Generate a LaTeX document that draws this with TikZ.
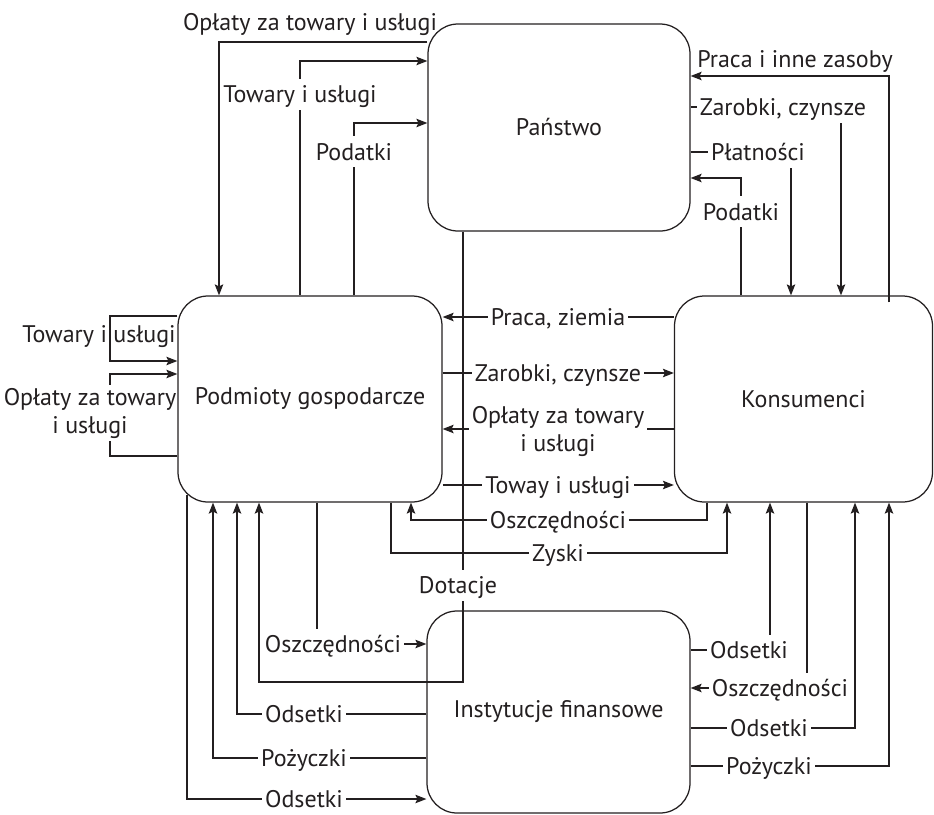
\documentclass[tikz,border=0pt]{standalone}
\usepackage{fontspec}
\setmainfont{PT Sans}
\usetikzlibrary{arrows.meta}
\definecolor{ink}{RGB}{35,31,32}
\begin{document}
\begin{tikzpicture}[x=1pt,y=-1pt,
  font=\fontsize{24}{28}\selectfont,
  box/.style={draw=ink, line width=1.25pt, rounded corners=30pt, inner sep=0pt, text=ink},
  conn/.style={draw=ink, line width=1.25pt},
  arr/.style={conn, -{Stealth[length=11pt,width=8.5pt,inset=2pt]}},
  lbl/.style={fill=white, inner sep=3pt, text height=21pt, text depth=4pt, text=ink},
  lbltwo/.style={fill=white, inner sep=3pt, align=center, text=ink},
  free/.style={inner sep=0pt, text=ink}
]
\useasboundingbox (0,0) rectangle (934,814);

\node[box, minimum width=262pt, minimum height=207pt] (pan) at (559,127.5) {Państwo};
\node[box, minimum width=264pt, minimum height=206pt] (pod) at (310,399) {Podmioty gospodarcze};
\node[box, minimum width=258pt, minimum height=206pt] (kon) at (803.5,399) {Konsumenci};
\node[box, minimum width=263pt, minimum height=202pt] (ins) at (558.5,712) {Instytucje finansowe};

% top-left
\draw[arr] (pan.west |- 0,42) -| (pod.north -| 219,0);
\draw[arr] (pod.north -| 300,0) |- (pan.west |- 0,61);
\draw[arr] (pod.north -| 354,0) |- (pan.west |- 0,123);
% Dotacje
\draw[arr] (pan.south -| 463,0) -- (463,682) -| (pod.south -| 259,0);
% top-right
\draw[arr] (kon.north -| 889,0) ++(0,7) |- (pan.east |- 0,76);
\draw[arr] (pan.east |- 0,107) -| (kon.north -| 841,0);
\draw[arr] (pan.east |- 0,152) -| (kon.north -| 791,0);
\draw[arr] (kon.north -| 741,0) |- (pan.east |- 0,178);
% middle
\draw[arr] (kon.west |- 0,317) -- (pod.east |- 0,317);
\draw[arr] (pod.east |- 0,373) -- (kon.west |- 0,373);
\draw[arr] (kon.west |- 0,429) -- (pod.east |- 0,429);
\draw[arr] (pod.east |- 0,485) -- (kon.west |- 0,485);
\draw[arr] (kon.south -| 707,0) |- (411,520) -- (pod.south -| 411,0);
\draw[arr] (pod.south -| 391,0) |- (727,553) -- (kon.south -| 727,0);
% bottom-left
\draw[arr] (pod.south -| 187,0) ++(0,-8) |- (ins.west |- 0,799);
\draw[arr] (ins.west |- 0,758) -| (pod.south -| 213,0);
\draw[arr] (ins.west |- 0,714) -| (pod.south -| 237,0);
\draw[arr] (pod.south -| 317,0) |- (ins.west |- 0,644);
% bottom-right
\draw[arr] (ins.east |- 0,650) -| (kon.south -| 770,0);
\draw[arr] (kon.south -| 807,0) |- (ins.east |- 0,688);
\draw[arr] (ins.east |- 0,728) -| (kon.south -| 855,0);
\draw[arr] (ins.east |- 0,766) -| (kon.south -| 889,0);
% left loops
\draw[arr] (pod.west |- 0,316) -- (110,316) -- (110,361) -- (pod.west |- 0,361);
\draw[arr] (pod.west |- 0,456) -- (110,456) -- (110,374) -- (pod.west |- 0,374);

% labels
\node[free] (l1) at (310,24) {Opłaty za towary i usługi};
\node[lbl] (l2) at (300,94) {Towary i usługi};
\node[lbl] (l3) at (354,151.5) {Podatki};
\node[lbl] (l4) at (458,585) {Dotacje};
\node[free] (l5) at (795,61) {Praca i inne zasoby};
\node[lbl] (l6) at (783,107) {Zarobki, czynsze};
\node[lbl] (l7) at (758,152) {Płatności};
\node[lbl] (l8) at (741,211.5) {Podatki};
\node[lbl] (l9) at (558,317) {Praca, ziemia};
\node[lbl] (l10) at (558,373) {Zarobki, czynsze};
\node[lbltwo] (l11) at (558,431) {Opłaty za towary\\i usługi};
\node[lbl] (l12) at (558,485) {Toway i usługi};
\node[lbl] (l13) at (558,520) {Oszczędności};
\node[lbl] (l14) at (558,553) {Zyski};
\node[lbl] (l15) at (333,644) {Oszczędności};
\node[lbl] (l16) at (304,714) {Odsetki};
\node[lbl] (l17) at (304,758) {Pożyczki};
\node[lbl] (l18) at (304,799) {Odsetki};
\node[lbl] (l19) at (749,650) {Odsetki};
\node[lbl] (l20) at (780,688) {Oszczędności};
\node[lbl] (l21) at (769,728) {Odsetki};
\node[lbl] (l22) at (769,766) {Pożyczki};
\node[free] (l23) at (99,337) {Towary i usługi};
\node[lbltwo, inner xsep=0pt] (l24) at (90,413) {Opłaty za towary\\i usługi};
\end{tikzpicture}
\end{document}
